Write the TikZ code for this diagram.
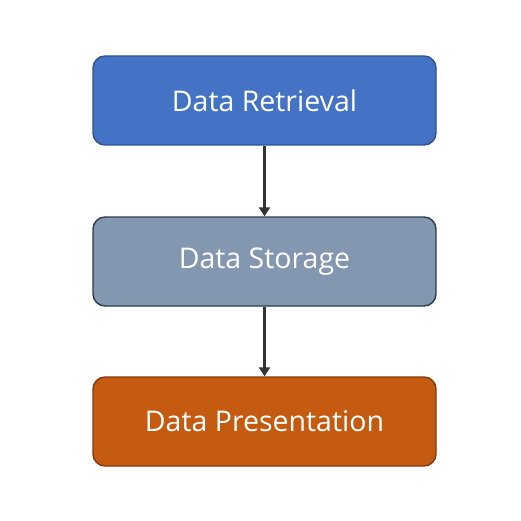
\documentclass[tikz,border=0pt]{standalone}
\usepackage{fontspec}
\setmainfont{Open Sans}
\usetikzlibrary{arrows.meta}
\definecolor{bluefill}{HTML}{4472C4}
\definecolor{blueline}{HTML}{2F528F}
\definecolor{grayfill}{HTML}{8497B0}
\definecolor{grayline}{HTML}{2F3B4C}
\definecolor{orangefill}{HTML}{C55A11}
\definecolor{orangeline}{HTML}{843C0C}
\definecolor{arrowcol}{HTML}{333333}
\tikzset{
  stagebox/.style={draw, line width=1.4pt, rounded corners=12pt, minimum width=343pt, minimum height=89pt, inner sep=0pt, text=white, font=\fontsize{28.5}{32}\selectfont},
  flow/.style={draw=arrowcol, line width=2.4pt, -{Triangle[length=9pt,width=11pt]}}
}
\begin{document}
\begin{tikzpicture}[x=1pt,y=-1pt]
\useasboundingbox[fill=white] (0,0) rectangle (521,521);
\node[stagebox, fill=bluefill, draw=blueline] (ret) at (264.5,100.5) {Data Retrieval};
\node[stagebox, fill=grayfill, draw=grayline] (sto) at (264.5,261.5) {Data Storage};
\node[stagebox, fill=orangefill, draw=orangeline] (pre) at (264.5,421.5) {Data Presentation};
\draw[flow] (ret) -- (sto);
\draw[flow] (sto) -- (pre);
\end{tikzpicture}
\end{document}
